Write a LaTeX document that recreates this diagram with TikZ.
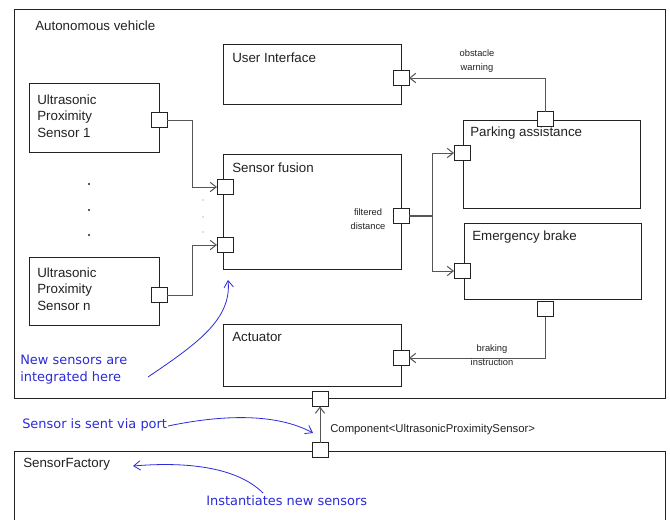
\documentclass[tikz,border=0pt]{standalone}
\usepackage{fontspec}
\setmainfont{Liberation Sans}
\newfontfamily\notefont{DejaVu Sans}
\usetikzlibrary{arrows.meta}
\definecolor{ink}{HTML}{222222}
\definecolor{wire}{HTML}{555555}
\definecolor{note}{HTML}{2B2BD9}
\begin{document}
\begin{tikzpicture}[x=0.75pt,y=-0.75pt,
 box/.style={draw=ink, line width=0.75pt, fill=white, anchor=north west, inner sep=0pt, outer sep=0pt},
 port/.style={draw=ink, line width=0.75pt, fill=white, minimum width=12pt, minimum height=11.25pt, inner sep=0pt, outer sep=0pt},
 title/.style={anchor=west, inner sep=0pt, text=ink, font=\fontsize{10}{12.5}\selectfont, align=left},
 small/.style={inner sep=0pt, text=ink, font=\fontsize{7}{11}\selectfont, align=center},
 conn/.style={draw=wire, line width=0.75pt},
 arr/.style={conn, -{Straight Barb[length=4.5pt,width=7pt]}},
 notetext/.style={anchor=west, inner sep=0pt, text=note, font=\notefont\fontsize{9.7}{12.75}\selectfont, align=left},
 notearr/.style={draw=note, line width=0.6pt, -{Straight Barb[length=5pt,width=7pt]}}]
\useasboundingbox (0,0) rectangle (670,519);
\clip (0,0) rectangle (670,519);
% containers
\node[box, minimum width=651*0.75pt, minimum height=389*0.75pt] (veh) at (14,9) {};
\node[title] (vehT) at (35,26) {Autonomous vehicle};
\node[box, minimum width=651*0.75pt, minimum height=100*0.75pt] (fac) at (14,451) {};
\node[title] (facT) at (23,464) {SensorFactory};
% components
\node[box, minimum width=178*0.75pt, minimum height=60*0.75pt] (ui) at (223,44) {};
\node[title] (uiT) at (232,58) {User Interface};
\node[box, minimum width=130*0.75pt, minimum height=69*0.75pt] (s1) at (29,83) {};
\node[title] (s1T) at (37,116) {Ultrasonic\\Proximity\\Sensor 1};
\node[box, minimum width=178*0.75pt, minimum height=115*0.75pt] (fus) at (223,154) {};
\node[title] (fusT) at (232,168) {Sensor fusion};
\node[box, minimum width=130*0.75pt, minimum height=68*0.75pt] (sn) at (29,257) {};
\node[title] (snT) at (37,289) {Ultrasonic\\Proximity\\Sensor n};
\node[box, minimum width=177*0.75pt, minimum height=88*0.75pt] (pa) at (463,120) {};
\node[title] (paT) at (470,133) {Parking assistance};
\node[box, minimum width=177*0.75pt, minimum height=76*0.75pt] (eb) at (464,223) {};
\node[title] (ebT) at (472,237) {Emergency brake};
\node[box, minimum width=178*0.75pt, minimum height=62*0.75pt] (act) at (223,324) {};
\node[title] (actT) at (232,337) {Actuator};
% ports
\node[port] (uip) at (401,78) {};
\node[port] (s1p) at (159,120) {};
\node[port] (fin1) at (225,187) {};
\node[port] (fin2) at (225,245) {};
\node[port] (fout) at (401,216) {};
\node[port] (snp) at (159,295) {};
\node[port] (pat) at (545,119) {};
\node[port] (pal) at (462,153) {};
\node[port] (ebl) at (462,271) {};
\node[port] (ebb) at (545,309) {};
\node[port] (actp) at (401,358) {};
\node[port] (vehp) at (320,399) {};
\node[port] (facp) at (320,450) {};
% dots
\foreach \yy in {184,210,235} \fill[ink] (89,\yy) circle (1.1);
\foreach \yy in {200,217,232} \fill[ink!60] (203,\yy) circle (0.6);
% connectors
\draw[arr] (s1p.east) -- ++(25,0) |- (fin1.west);
\draw[arr] (snp.east) -- ++(25,0) |- (fin2.west);
\draw[conn, line width=1.3pt] (fout.east) -- ++(23,0) coordinate (jn);
\draw[arr] (jn) |- (pal.west);
\draw[arr] (jn) |- (ebl.west);
\draw[arr] (pat.north) |- (uip.east);
\draw[arr] (ebb.south) |- (actp.east);
\draw[arr] (facp.north) -- (vehp.south);
% labels
\node[small] (lblF) at (368,219) {filtered\\distance};
\node[small] (lblO) at (477,61) {obstacle\\warning};
\node[small] (lblB) at (492,355) {braking\\instruction};
\node[anchor=west, inner sep=0pt, text=ink, font=\fontsize{8.5}{10}\selectfont] (lblC) at (330,430) {Component<UltrasonicProximitySensor>};
% notes
\node[notetext] (n1) at (20,370) {New sensors are\\integrated here};
\node[notetext] (n2) at (22,425) {Sensor is sent via port};
\node[notetext] (n3) at (206,501) {Instantiates new sensors};
\coordinate (n1s) at (148,377);
\coordinate (n1e) at (228,280);
\coordinate (n2s) at (168,426);
\coordinate (n2e) at (313,433);
\coordinate (n3s) at (263,493);
\coordinate (n3e) at (133,466);
\draw[notearr] (n1s) .. controls (195,345) and (232,320) .. (n1e);
\draw[notearr] (n2s) .. controls (230,413) and (280,415) .. (n2e);
\draw[notearr] (n3s) .. controls (235,465) and (180,462) .. (n3e);
\end{tikzpicture}
\end{document}
